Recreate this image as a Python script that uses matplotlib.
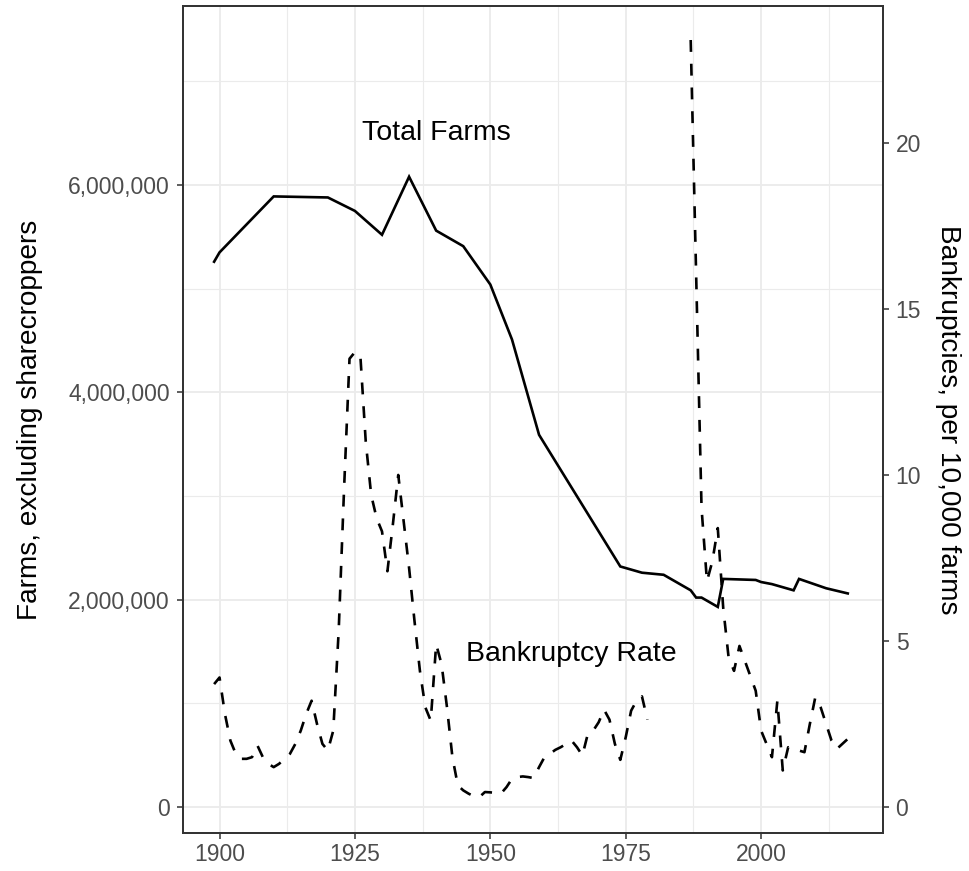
import numpy as np
import matplotlib
matplotlib.use('Agg')
import matplotlib.pyplot as plt
from matplotlib.ticker import FuncFormatter, MultipleLocator

# Total farms (excluding sharecroppers)
farm_years = [1899, 1900, 1910, 1920, 1925, 1930, 1935, 1940, 1945, 1950, 1954, 1959,
              1974, 1978, 1982, 1987, 1988, 1989, 1992, 1993, 1999, 2000, 2002, 2006,
              2007, 2012, 2016]
farms = [5.26e6, 5.35e6, 5.89e6, 5.88e6, 5.75e6, 5.52e6, 6.08e6, 5.56e6, 5.41e6, 5.04e6,
         4.51e6, 3.59e6, 2.32e6, 2.26e6, 2.24e6, 2.09e6, 2.02e6, 2.02e6, 1.93e6, 2.20e6,
         2.19e6, 2.17e6, 2.15e6, 2.09e6, 2.20e6, 2.11e6, 2.06e6]

# Bankruptcies per 10,000 farms (NaN = no data, breaks the line)
bk_years = list(range(1899, 1987)) + [1987] + list(range(1989, 2017))
bk_rate = [3.7, 3.9, 2.8, 2.0, 1.6, 1.45, 1.45, 1.5, 1.85, 1.5,      # 1899-1908
           1.3, 1.2, 1.3, 1.45, 1.6, 1.9, 2.3, 2.8, 3.2, 2.5,        # 1909-1918
           1.9, 1.7, 2.3, 5.3, 9.6, 13.5, 13.7, 13.6, 11.0, 9.4,     # 1919-1928
           8.7, 8.3, 7.1, 8.5, 10.0, 8.6, 7.2, 5.6, 4.1, 3.0,        # 1929-1938
           2.6, 4.9, 4.3, 3.0, 1.5, 0.65, 0.5, 0.4, 0.32, 0.3,       # 1939-1948
           0.45, 0.44, 0.42, 0.41, 0.6, 0.85, 0.9, 0.92, 0.9, 0.87,  # 1949-1958
           1.2, 1.5, 1.6, 1.72, 1.8, 1.9, 2.0, 1.8, 1.55, 2.2,       # 1959-1968
           2.3, 2.55, 2.93, 2.63, 1.9, 1.42, 2.1, 2.9, 3.2, 3.33,    # 1969-1978
           2.63, np.nan, np.nan, np.nan, np.nan, np.nan, np.nan, np.nan,  # 1979-1986
           23.1,                                                     # 1987
           9.0, 6.8, 7.4, 8.4, 6.0, 4.5, 4.1, 4.85, 4.4, 3.95,       # 1989-1998
           3.5, 2.3, 1.9, 1.5, 3.2, 1.1, 1.8, 1.75, 1.7, 1.65,       # 1999-2008
           2.5, 3.3, 3.0, 2.5, 2.0, 1.75, 1.9, 2.05]                 # 2009-2016

farm_ticks = [0, 2e6, 4e6, 6e6]
bk_ticks = [0, 5, 10, 15, 20]
year_ticks = [1900, 1925, 1950, 1975, 2000]

plt.rcParams['font.family'] = ['Liberation Sans', 'DejaVu Sans']

grid_col = '#EBEBEB'
frame_col = '#333333'
tick_col = '#4D4D4D'

fig = plt.figure(figsize=(9.7, 8.71), dpi=100)
ax = fig.add_axes([182.7 / 970, 1 - 833.3 / 871, 700 / 970, 827.3 / 871])
ax2 = ax.twinx()

ax.plot(farm_years, farms, color='black', lw=1.9, solid_joinstyle='miter')
ax2.plot(bk_years, bk_rate, color='black', lw=1.9, linestyle=(0, (4.5, 4.5)))

ax.set_xlim(1893.2, 2022.45)
ax.set_ylim(-0.254e6, 7.727e6)
ax2.set_ylim(-0.254 / 0.3203, 7.727 / 0.3203)

ax.set_xticks(year_ticks)
ax.xaxis.set_minor_locator(MultipleLocator(12.5))
ax.set_yticks(farm_ticks)
ax.yaxis.set_minor_locator(MultipleLocator(1e6))
ax.yaxis.set_major_formatter(FuncFormatter(lambda v, p: f'{int(v):,}'))
ax2.set_yticks(bk_ticks)

ax.grid(True, which='major', color=grid_col, lw=1.3)
ax.grid(True, which='minor', color=grid_col, lw=0.8)
ax.set_axisbelow(True)

for a in (ax, ax2):
    a.tick_params(which='major', length=4.3, width=1.1, color=frame_col,
                  labelcolor=tick_col, labelsize=16.5, pad=5)
    a.tick_params(which='minor', length=0)
    for s in a.spines.values():
        s.set_color(frame_col)
        s.set_linewidth(1.3)
ax.tick_params(axis='x', pad=3)

ax.set_ylabel('Farms, excluding sharecroppers', fontsize=20.2, labelpad=18)
ax2.set_ylabel('Bankruptcies, per 10,000 farms', fontsize=20.2, rotation=-90,
               va='bottom', labelpad=10)

ax.text(1940, 6.5e6, 'Total Farms', ha='center', va='center', fontsize=20.5)
ax.text(1965, 1.48e6, 'Bankruptcy Rate', ha='center', va='center', fontsize=20.5)

fig.savefig('out.png', dpi=100)
